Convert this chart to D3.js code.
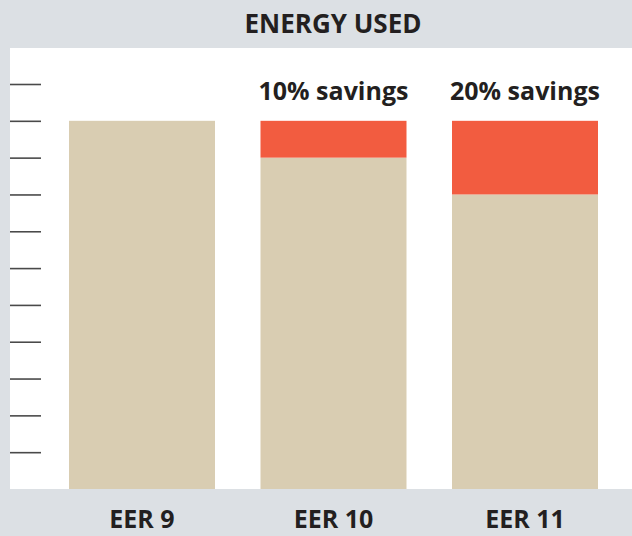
<!DOCTYPE html>
<html>
<head>
<meta charset="utf-8">
<script src="https://cdn.jsdelivr.net/npm/d3@7"></script>
<style>
  html, body { margin: 0; padding: 0; background: #dce0e4; }
  svg { display: block; font-family: "Open Sans", "DejaVu Sans", sans-serif; }
</style>
</head>
<body>
<svg id="chart"></svg>
<script>
// data
const categories = ['EER 9', 'EER 10', 'EER 11'];
const energyUsed = [100, 90, 80];
const savings = [0, 10, 20];
const savingsLabels = ['', '10% savings', '20% savings'];
const yTicks = [10, 20, 30, 40, 50, 60, 70, 80, 90, 100, 110];

const W = 632, H = 536;
const plot = { left: 10, right: 632, top: 48, bottom: 489 };

const svg = d3.select('#chart').attr('width', W).attr('height', H);

svg.append('rect').attr('width', W).attr('height', H).attr('fill', '#dce0e4');
svg.append('rect')
  .attr('x', plot.left).attr('y', plot.top)
  .attr('width', plot.right - plot.left).attr('height', plot.bottom - plot.top)
  .attr('fill', '#fff');

const x = d3.scaleBand().domain(categories).range([69, 598]).paddingInner(0.2376).paddingOuter(0);
const y = d3.scaleLinear().domain([0, 110]).range([plot.bottom, 84]);

// tick marks on the left
svg.append('g').attr('transform', `translate(${plot.left},0)`)
  .call(d3.axisRight(y).tickValues(yTicks).tickSize(31).tickFormat(() => ''))
  .call(g => g.select('.domain').remove())
  .selectAll('line').attr('stroke', '#4a4a4a').attr('stroke-width', 1.6);

// base bars
svg.selectAll('.used').data(categories).enter().append('rect')
  .attr('x', d => x(d)).attr('width', x.bandwidth())
  .attr('y', (d, i) => y(energyUsed[i]))
  .attr('height', (d, i) => y(0) - y(energyUsed[i]))
  .attr('fill', '#d9cdb2');

// savings stacked on top
svg.selectAll('.saved').data(categories).enter().append('rect')
  .attr('x', d => x(d)).attr('width', x.bandwidth())
  .attr('y', (d, i) => y(energyUsed[i] + savings[i]))
  .attr('height', (d, i) => y(energyUsed[i]) - y(energyUsed[i] + savings[i]))
  .attr('fill', '#f25c40');

svg.selectAll('.slabel').data(categories).enter().append('text')
  .attr('x', d => x(d) + x.bandwidth() / 2).attr('y', 100)
  .attr('text-anchor', 'middle')
  .attr('font-size', 25).attr('font-weight', 700).attr('fill', '#231f20')
  .text((d, i) => savingsLabels[i]);

svg.selectAll('.clabel').data(categories).enter().append('text')
  .attr('x', d => x(d) + x.bandwidth() / 2).attr('y', 528)
  .attr('text-anchor', 'middle')
  .attr('font-size', 25).attr('font-weight', 700).attr('fill', '#231f20')
  .text(d => d);

svg.append('text')
  .attr('x', 333).attr('y', 33).attr('text-anchor', 'middle')
  .attr('font-size', 26).attr('font-weight', 700).attr('fill', '#231f20')
  .text('ENERGY USED');
</script>
</body>
</html>
